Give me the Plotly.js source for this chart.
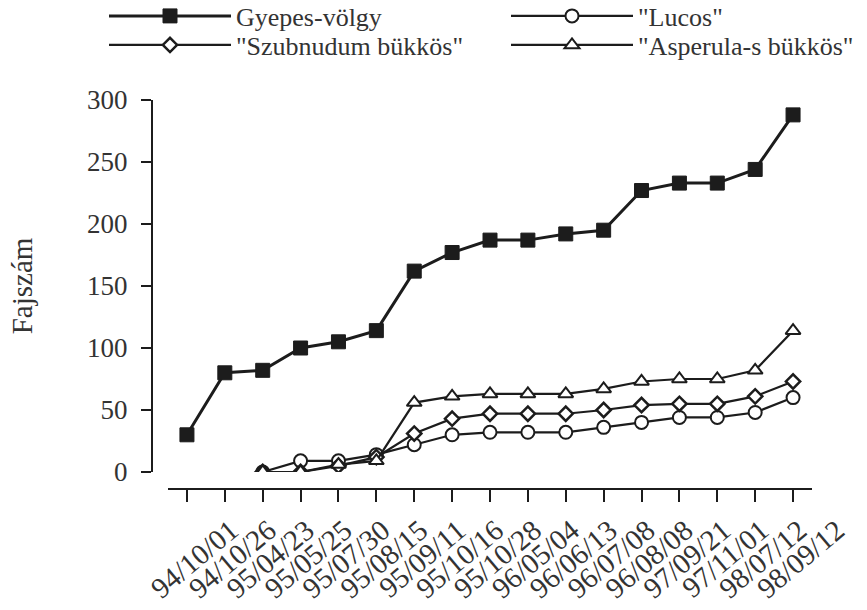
<!DOCTYPE html>
<html>
<head>
<meta charset="utf-8">
<script src="https://cdn.plot.ly/plotly-3.0.1.min.js"></script>
<style>html,body{margin:0;padding:0;background:#fff;}#chart{width:867px;height:610px;}</style>
</head>
<body>
<div id="chart"></div>
<script>
const dates = ["94/10/01","94/10/26","95/04/23","95/05/25","95/07/30","95/08/15","95/09/11","95/10/16","95/10/28","96/05/04","96/06/13","96/07/08","96/08/08","97/09/21","97/11/01","98/07/12","98/09/12"];
const gyepes = [30,80,82,100,105,114,162,177,187,187,192,195,227,233,233,244,288];
const lucos = [null,null,0,9,9,14,22,30,32,32,32,36,40,44,44,48,60];
const szubnudum = [null,null,0,0,5,12,31,43,47,47,47,50,54,55,55,61,73];
const asperula = [null,null,0,0,6,9,56,61,63,63,63,67,73,75,75,82,114];

const ink = "#1c1c1c";
const txt = "#333333";
const FONT = "'Liberation Serif', 'Times New Roman', serif";

const traces = [
  {x: dates, y: gyepes, name: "Gyepes-völgy", mode: "lines+markers", legend: "legend",
   line: {color: ink, width: 3}, marker: {symbol: "square", size: 14, color: ink, line: {color: ink, width: 1}}},
  {x: dates, y: lucos, name: "\"Lucos\"", mode: "lines+markers", legend: "legend2",
   line: {color: ink, width: 2.2}, marker: {symbol: "circle", size: 13, color: "#fff", line: {color: ink, width: 2}}},
  {x: dates, y: szubnudum, name: "\"Szubnudum bükkös\"", mode: "lines+markers", legend: "legend3",
   line: {color: ink, width: 2.2}, marker: {symbol: "diamond", size: 11, color: "#fff", line: {color: ink, width: 2.5}}},
  {x: dates, y: asperula, name: "\"Asperula-s bükkös\"", mode: "lines+markers", legend: "legend4",
   line: {color: ink, width: 2.2}, marker: {symbol: "triangle-up", size: 13, color: "#fff", line: {color: ink, width: 2}}}
];

function legendAt(px, py) {
  return {
    orientation: "h", xref: "container", yref: "container", xanchor: "left", yanchor: "middle",
    x: px / 867, y: 1 - py / 610, itemwidth: 122,
    font: {family: FONT, size: 26, color: txt},
    bgcolor: "rgba(0,0,0,0)", borderwidth: 0
  };
}

const layout = {
  width: 867, height: 610,
  margin: {l: 152, r: 55, t: 100, b: 121},
  paper_bgcolor: "#fff", plot_bgcolor: "#fff",
  font: {family: FONT, color: txt},
  showlegend: true,
  legend: legendAt(104, 16),
  legend2: legendAt(506, 16),
  legend3: legendAt(104, 45),
  legend4: legendAt(506, 45),
  xaxis: {
    type: "category", domain: [16/660, 1], range: [-0.5, 16.5],
    anchor: "free", position: 0,
    showline: true, linecolor: ink, linewidth: 2,
    ticks: "outside", ticklen: 12, tickwidth: 2, tickcolor: ink,
    showgrid: false, zeroline: false,
    tickangle: -40, ticklabelshift: 44, ticklabelstandoff: 0,
    tickfont: {family: FONT, size: 29, color: txt}
  },
  yaxis: {
    domain: [17/389, 1], range: [0, 300],
    anchor: "free", position: 0,
    showline: true, linecolor: ink, linewidth: 2,
    ticks: "outside", ticklen: 10, tickwidth: 2, tickcolor: ink,
    tickvals: [0,50,100,150,200,250,300],
    showgrid: false, zeroline: false,
    ticklabelstandoff: 8,
    tickfont: {family: FONT, size: 27, color: txt},
    title: {text: "Fajszám", font: {family: FONT, size: 29, color: txt}, standoff: 45}
  }
};

Plotly.newPlot("chart", traces, layout, {displayModeBar: false, staticPlot: true});
</script>
</body>
</html>
